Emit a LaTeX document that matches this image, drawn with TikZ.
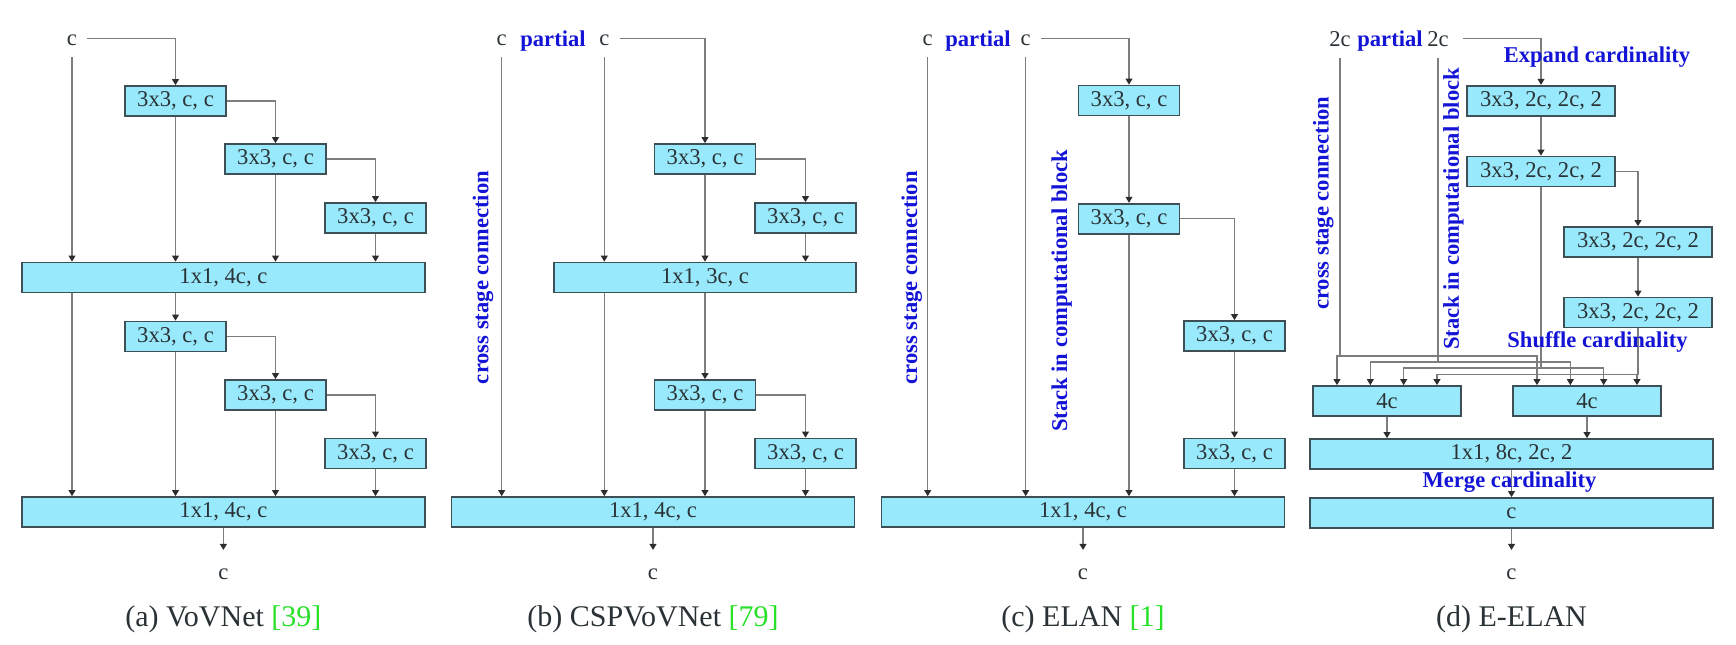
\documentclass[tikz,border=0pt]{standalone}
\usepackage{fontspec}
\setmainfont{Liberation Serif}
\usetikzlibrary{arrows.meta,calc}
\definecolor{boxfill}{RGB}{153,233,252}
\definecolor{boxline}{RGB}{62,80,86}
\definecolor{lncol}{RGB}{125,125,125}
\definecolor{tipcol}{RGB}{45,45,45}
\definecolor{txt}{RGB}{42,50,54}
\definecolor{lblblue}{RGB}{20,20,215}
\definecolor{citegreen}{RGB}{40,225,40}
\newcommand\smallsz{\fontsize{11.3}{13}\selectfont}
\newcommand\capsz{\fontsize{15}{18}\selectfont}
\begin{document}
\begin{tikzpicture}[x=0.5pt,y=-0.5pt,
  blk/.style={draw=boxline,fill=boxfill,line width=0.85pt,inner sep=0pt,minimum height=15pt,text=txt,font=\smallsz},
  sbox/.style={blk,minimum width=50.5pt},
  wbox/.style={blk,minimum width=74pt},
  bigbox/.style={blk,minimum width=201.5pt},
  lbl/.style={inner sep=0pt,anchor=base,text=txt,font=\smallsz},
  blbl/.style={inner sep=0pt,text=lblblue,font=\smallsz\bfseries},
  rlbl/.style={blbl,rotate=90},
  captxt/.style={inner sep=0pt,anchor=base,text=txt,font=\capsz},
  ln/.style={draw=lncol,line width=0.65pt},
  arr/.style={ln,-{Triangle[length=3pt,width=3.4pt,color=tipcol]}},
  darr/.style={ln,{Triangle[length=3pt,width=3.4pt,color=tipcol]}-{Triangle[length=3pt,width=3.4pt,color=tipcol]}},
]
\useasboundingbox (0,0) rectangle (1736,644);

% ---------------- (a) VoVNet ----------------
\node[lbl] (ain) at (72,45.5) {c};
\node[sbox] (a1) at (175.5,101) {3x3, c, c};
\node[sbox] (a2) at (275.5,159) {3x3, c, c};
\node[sbox] (a3) at (375.5,218) {3x3, c, c};
\node[bigbox] (abig1) at (223.4,277.5) {1x1, 4c, c};
\node[sbox] (a4) at (175.5,336.5) {3x3, c, c};
\node[sbox] (a5) at (275.5,395) {3x3, c, c};
\node[sbox] (a6) at (375.5,453.5) {3x3, c, c};
\node[bigbox] (abig2) at (223.4,512) {1x1, 4c, c};
\node[lbl] (aout) at (223.4,579) {c};
\node[captxt] (acap) at (223.4,626) {(a) VoVNet \textcolor{citegreen}{[39]}};

\draw[arr] ([shift={(5pt,1pt)}]ain.east) -| (a1.north);
\draw[arr] ([yshift=-5.5pt]ain.south) -- (ain.south |- abig1.north);
\draw[arr] (a1.south) -- (a1.south |- abig1.north);
\draw[arr] (a1.east) -| (a2.north);
\draw[arr] (a2.south) -- (a2.south |- abig1.north);
\draw[arr] (a2.east) -| (a3.north);
\draw[arr] (a3.south) -- (a3.south |- abig1.north);
\draw[arr] (ain.south |- abig1.south) -- (ain.south |- abig2.north);
\draw[arr] (a4.north |- abig1.south) -- (a4.north);
\draw[arr] (a4.south) -- (a4.south |- abig2.north);
\draw[arr] (a4.east) -| (a5.north);
\draw[arr] (a5.south) -- (a5.south |- abig2.north);
\draw[arr] (a5.east) -| (a6.north);
\draw[arr] (a6.south) -- (a6.south |- abig2.north);
\draw[arr] (abig2.south) -- ([yshift=9pt]aout.north);

% ---------------- (b) CSPVoVNet ----------------
\node[lbl] (bc1) at (501.7,45.5) {c};
\node[blbl,anchor=base] (bpart) at (553,46) {partial};
\node[lbl] (bc2) at (604.3,45.5) {c};
\node[sbox] (b1) at (705,159) {3x3, c, c};
\node[sbox] (b2) at (805.5,218) {3x3, c, c};
\node[blk,minimum width=151pt] (bbig1) at (705,277.5) {1x1, 3c, c};
\node[sbox] (b3) at (705,395) {3x3, c, c};
\node[sbox] (b4) at (805.5,453.5) {3x3, c, c};
\node[bigbox] (bbig2) at (653,512) {1x1, 4c, c};
\node[lbl] (bout) at (653,579) {c};
\node[captxt] (bcap) at (653,626) {(b) CSPVoVNet \textcolor{citegreen}{[79]}};
\node[rlbl] (bcross) at (483,277.5) {cross stage connection};

\draw[arr] ([shift={(5pt,1pt)}]bc2.east) -| (b1.north);
\draw[arr] ([yshift=-5.5pt]bc1.south) -- (bc1.south |- bbig2.north);
\draw[arr] ([yshift=-5.5pt]bc2.south) -- (bc2.south |- bbig1.north);
\draw[arr] (bc2.south |- bbig1.south) -- (bc2.south |- bbig2.north);
\draw[arr] (b1.south) -- (b1.south |- bbig1.north);
\draw[arr] (b1.east) -| (b2.north);
\draw[arr] (b2.south) -- (b2.south |- bbig1.north);
\draw[arr] (b3.north |- bbig1.south) -- (b3.north);
\draw[arr] (b3.south) -- (b3.south |- bbig2.north);
\draw[arr] (b3.east) -| (b4.north);
\draw[arr] (b4.south) -- (b4.south |- bbig2.north);
\draw[arr] (bbig2.south) -- ([yshift=9pt]bout.north);

% ---------------- (c) ELAN ----------------
\node[lbl] (cc1) at (927.7,45.5) {c};
\node[blbl,anchor=base] (cpart) at (978,46) {partial};
\node[lbl] (cc2) at (1025.7,45.5) {c};
\node[sbox] (c1) at (1129,100.5) {3x3, c, c};
\node[sbox] (c2) at (1129,218.7) {3x3, c, c};
\node[sbox] (c3) at (1234.5,336) {3x3, c, c};
\node[sbox] (c4) at (1234.5,453.5) {3x3, c, c};
\node[bigbox] (cbig) at (1083,512) {1x1, 4c, c};
\node[lbl] (cout) at (1083,579) {c};
\node[captxt] (ccap) at (1083,626) {(c) ELAN \textcolor{citegreen}{[1]}};
\node[rlbl] (ccross) at (911.7,277.7) {cross stage connection};
\node[rlbl] (cstack) at (1061.7,291) {Stack in computational block};

\draw[arr] ([shift={(5pt,1pt)}]cc2.east) -| (c1.north);
\draw[arr] ([yshift=-5.5pt]cc1.south) -- (cc1.south |- cbig.north);
\draw[arr] ([yshift=-5.5pt]cc2.south) -- (cc2.south |- cbig.north);
\draw[arr] (c1.south) -- (c2.north);
\draw[arr] (c2.south) -- (c2.south |- cbig.north);
\draw[arr] (c2.east) -| (c3.north);
\draw[arr] (c3.south) -- (c4.north);
\draw[arr] (c4.south) -- (c4.south |- cbig.north);
\draw[arr] (cbig.south) -- ([yshift=9pt]cout.north);

% ---------------- (d) E-ELAN ----------------
\node[lbl] (dc1) at (1340,46) {2c};
\node[blbl,anchor=base] (dpart) at (1390,46) {partial};
\node[lbl] (dc2) at (1438,46) {2c};
\node[wbox] (d1) at (1541,100.7) {3x3, 2c, 2c, 2};
\node[wbox] (d2) at (1541,171.5) {3x3, 2c, 2c, 2};
\node[wbox] (d3) at (1638,242) {3x3, 2c, 2c, 2};
\node[wbox] (d4) at (1638,312.5) {3x3, 2c, 2c, 2};
\node[wbox] (dL) at (1387,401) {4c};
\node[wbox] (dR) at (1587,401) {4c};
\node[bigbox] (d5) at (1511.5,454) {1x1, 8c, 2c, 2};
\node[bigbox] (d6) at (1511.5,513) {c};
\node[lbl] (dout) at (1511.5,579) {c};
\node[captxt] (dcap) at (1511.5,626) {(d) E-ELAN};
\node[rlbl] (dcross) at (1323.3,203.3) {cross stage connection};
\node[rlbl] (dstack) at (1453.5,209) {Stack in computational block};

\coordinate (L1) at ([xshift=-25pt]dL.north);
\coordinate (L2) at ([xshift=-8.33pt]dL.north);
\coordinate (L3) at ([xshift=8.33pt]dL.north);
\coordinate (L4) at ([xshift=25pt]dL.north);
\coordinate (R1) at ([xshift=-25pt]dR.north);
\coordinate (R2) at ([xshift=-8.33pt]dR.north);
\coordinate (R3) at ([xshift=8.33pt]dR.north);
\coordinate (R4) at ([xshift=25pt]dR.north);
\coordinate (h1) at (0,356);
\coordinate (h2) at (0,362);
\coordinate (h3) at (0,368);
\coordinate (h4) at (0,374.5);

\draw[arr] ([xshift=7pt]dc2.east) -| (d1.north);
\draw[arr] (d1.south) -- (d2.north);
\draw[arr] (d2.east) -| (d3.north);
\draw[arr] (d3.south) -- (d4.north);

\draw[ln] ([yshift=-5.5pt]dc1.south) -- (dc1.south |- h1);
\draw[darr] (L1) -- (L1 |- h1) -- (R1 |- h1) -- (R1);
\draw[ln] ([yshift=-5.5pt]dc2.south) -- (dc2.south |- h2);
\draw[darr] (L2) -- (L2 |- h2) -- (R2 |- h2) -- (R2);
\draw[ln] (d2.south) -- (d2.south |- h3);
\draw[darr] (L3) -- (L3 |- h3) -- (R3 |- h3) -- (R3);
\draw[ln] (d4.south) -- (d4.south |- h4);
\draw[darr] (L4) -- (L4 |- h4) -- (R4 |- h4) -- (R4);

\draw[arr] (dL.south) -- (dL.south |- d5.north);
\draw[arr] (dR.south) -- (dR.south |- d5.north);
\draw[arr] (d5.south) -- (d6.north);
\draw[arr] (d6.south) -- ([yshift=9pt]dout.north);

\node[blbl] (dexp) at (1597,57) {Expand cardinality};
\node[blbl] (dshuf) at (1597.5,341.6) {Shuffle cardinality};
\node[blbl] (dmerge) at (1509.5,482) {Merge cardinality};
\end{tikzpicture}
\end{document}
